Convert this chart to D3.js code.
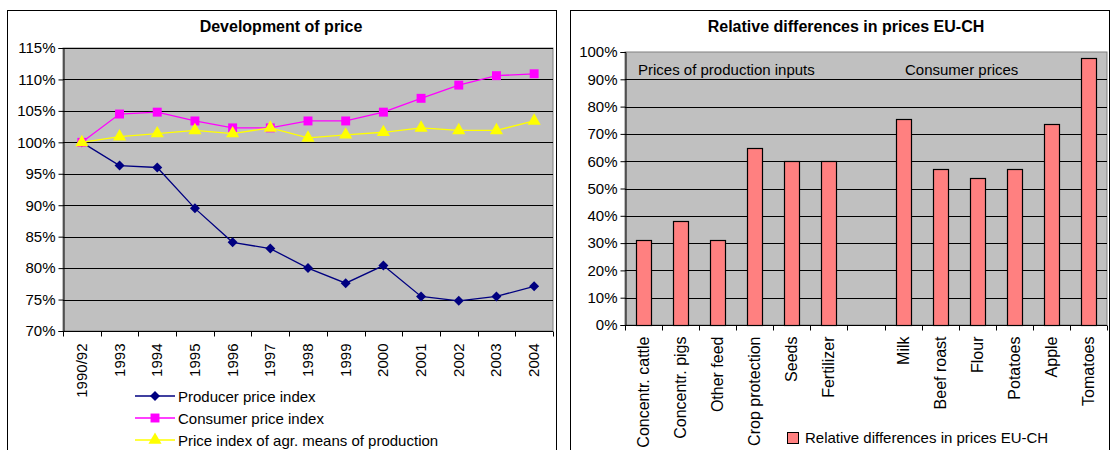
<!DOCTYPE html>
<html>
<head>
<meta charset="utf-8">
<script src="https://cdn.jsdelivr.net/npm/d3@7"></script>
<style>
  body { margin: 0; background: #fff; }
  svg { font-family: "Liberation Sans", Arial, sans-serif; }
</style>
</head>
<body>
<svg id="chart" width="1110" height="450"></svg>
<script>
// left chart data
const years = ["1990/92", "1993", "1994", "1995", "1996", "1997", "1998", "1999", "2000", "2001", "2002", "2003", "2004"];
const producerIndex = [100, 96.3, 96.0, 89.5, 84.1, 83.1, 80.0, 77.6, 80.4, 75.5, 74.8, 75.5, 77.1];
const consumerIndex = [100, 104.5, 104.8, 103.4, 102.3, 102.3, 103.4, 103.4, 104.8, 107.0, 109.1, 110.6, 110.9];
const meansIndex = [100, 100.9, 101.4, 101.9, 101.4, 102.3, 100.7, 101.2, 101.6, 102.3, 101.9, 101.9, 103.4];
const leftTicks = [70, 75, 80, 85, 90, 95, 100, 105, 110, 115];

// right chart data ("" is the empty slot between the two groups)
const products = ["Concentr. cattle", "Concentr. pigs", "Other feed", "Crop protection", "Seeds", "Fertilizer", "",
                  "Milk", "Beef roast", "Flour", "Potatoes", "Apple", "Tomatoes"];
const priceDiff = [31, 38.2, 31, 65, 60.2, 60.2, null, 75.4, 57, 53.8, 57, 73.8, 97.8];
const rightTicks = [0, 10, 20, 30, 40, 50, 60, 70, 80, 90, 100];

const svg = d3.select("#chart");

// frames
svg.append("rect").attr("x", 7.5).attr("y", 10.5).attr("width", 549).attr("height", 460)
    .attr("fill", "#fff").attr("stroke", "#000");
svg.append("rect").attr("x", 570.5).attr("y", 10.5).attr("width", 539).attr("height", 460)
    .attr("fill", "#fff").attr("stroke", "#000");

// ---------- left chart ----------
const L = { left: 63, right: 553, top: 48, bottom: 331 };

const xL = d3.scaleBand().domain(years).range([L.left, L.right]);
const yL = d3.scaleLinear().domain([70, 115]).range([L.bottom, L.top]);

svg.append("text")
    .attr("x", 281).attr("y", 32)
    .attr("text-anchor", "middle")
    .attr("font-size", "16px").attr("font-weight", "bold")
    .text("Development of price");

svg.append("rect")
    .attr("x", L.left).attr("y", L.top)
    .attr("width", L.right - L.left).attr("height", L.bottom - L.top)
    .attr("fill", "#c0c0c0").attr("stroke", "#808080");

svg.append("g")
    .selectAll("line")
    .data(leftTicks.slice(1))
    .enter().append("line")
    .attr("x1", L.left).attr("x2", L.right)
    .attr("y1", d => Math.round(yL(d)) + 0.5).attr("y2", d => Math.round(yL(d)) + 0.5)
    .attr("stroke", "#000");

const yAxisL = svg.append("g")
    .attr("transform", `translate(${L.left + 0.5},0)`)
    .call(d3.axisLeft(yL).tickValues(leftTicks).tickFormat(d => d + "%").tickSize(5).tickPadding(3));
yAxisL.select(".domain").attr("stroke", "#000");
yAxisL.selectAll("text").attr("font-size", "15px").attr("fill", "#000").attr("font-family", "Liberation Sans, Arial, sans-serif");

const xAxisL = svg.append("g")
    .attr("transform", `translate(0,${L.bottom + 0.5})`);
xAxisL.append("line").attr("x1", L.left).attr("x2", L.right).attr("stroke", "#000");
xAxisL.selectAll(".tk")
    .data(d3.range(years.length + 1))
    .enter().append("line")
    .attr("x1", i => Math.round(L.left + i * xL.step()) + 0.5)
    .attr("x2", i => Math.round(L.left + i * xL.step()) + 0.5)
    .attr("y1", 0).attr("y2", 5).attr("stroke", "#000");
xAxisL.selectAll("text")
    .data(years)
    .enter().append("text")
    .attr("transform", d => `translate(${xL(d) + xL.bandwidth() / 2 + 5},12) rotate(-90)`)
    .attr("text-anchor", "end")
    .attr("font-size", "15px")
    .text(d => d);

const series = [
    { name: "Producer price index", values: producerIndex, color: "#000080", shape: d3.symbolSquare, size: 50, rot: 45 },
    { name: "Consumer price index", values: consumerIndex, color: "#ff00ff", shape: d3.symbolSquare, size: 80, rot: 0 },
    { name: "Price index of agr. means of production", values: meansIndex, color: "#ffff00", shape: d3.symbolTriangle, size: 75, rot: 0 }
];

const line = d3.line()
    .x((d, i) => xL(years[i]) + xL.bandwidth() / 2)
    .y(d => yL(d));

series.forEach(s => {
    svg.append("path")
        .datum(s.values)
        .attr("d", line)
        .attr("fill", "none")
        .attr("stroke", s.color)
        .attr("stroke-width", 1.3);
    svg.append("g")
        .selectAll("path")
        .data(s.values)
        .enter().append("path")
        .attr("transform", (d, i) => `translate(${xL(years[i]) + xL.bandwidth() / 2},${yL(d)}) rotate(${s.rot})`)
        .attr("d", d3.symbol().type(s.shape).size(s.size))
        .attr("fill", s.color);
});

const legendL = svg.append("g").attr("transform", "translate(135,396)");
const legendItems = legendL.selectAll("g")
    .data(series)
    .enter().append("g")
    .attr("transform", (d, i) => `translate(0,${i * 22})`);
legendItems.append("line")
    .attr("x1", 0).attr("x2", 40)
    .attr("stroke", d => d.color).attr("stroke-width", 1.3);
legendItems.append("path")
    .attr("transform", d => `translate(20,0) rotate(${d.rot})`)
    .attr("d", d => d3.symbol().type(d.shape).size(d.size)())
    .attr("fill", d => d.color);
legendItems.append("text")
    .attr("x", 43).attr("y", 5.5)
    .attr("font-size", "15px")
    .text(d => d.name);

// ---------- right chart ----------
const R = { left: 625, right: 1107, top: 52, bottom: 325 };

const slot = (R.right - R.left) / products.length;
const yR = d3.scaleLinear().domain([0, 100]).range([R.bottom, R.top]);

svg.append("text")
    .attr("x", 846).attr("y", 32)
    .attr("text-anchor", "middle")
    .attr("font-size", "16px").attr("font-weight", "bold")
    .text("Relative differences in prices EU-CH");

svg.append("rect")
    .attr("x", R.left).attr("y", R.top)
    .attr("width", R.right - R.left).attr("height", R.bottom - R.top)
    .attr("fill", "#c0c0c0").attr("stroke", "#808080");

svg.append("g")
    .selectAll("line")
    .data(rightTicks.slice(1, -1))
    .enter().append("line")
    .attr("x1", R.left).attr("x2", R.right)
    .attr("y1", d => Math.round(yR(d)) + 0.5).attr("y2", d => Math.round(yR(d)) + 0.5)
    .attr("stroke", "#000");

svg.append("text").attr("x", 638).attr("y", 75).attr("font-size", "15px").text("Prices of production inputs");
svg.append("text").attr("x", 905).attr("y", 75).attr("font-size", "15px").text("Consumer prices");

const barW = 15;
svg.append("g")
    .selectAll("rect")
    .data(priceDiff.map((v, i) => ({ v, i })).filter(d => d.v !== null))
    .enter().append("rect")
    .attr("x", d => Math.round(R.left + (d.i + 0.5) * slot - barW / 2) + 0.5)
    .attr("y", d => Math.round(yR(d.v)) + 0.5)
    .attr("width", barW)
    .attr("height", d => Math.round(yR(0)) - Math.round(yR(d.v)))
    .attr("fill", "#ff8080")
    .attr("stroke", "#000")
    .attr("stroke-width", 1.2);

const yAxisR = svg.append("g")
    .attr("transform", `translate(${R.left + 0.5},0)`)
    .call(d3.axisLeft(yR).tickValues(rightTicks).tickFormat(d => d + "%").tickSize(5).tickPadding(3));
yAxisR.select(".domain").attr("stroke", "#000");
yAxisR.selectAll("text").attr("font-size", "15px").attr("fill", "#000").attr("font-family", "Liberation Sans, Arial, sans-serif");

const xAxisR = svg.append("g")
    .attr("transform", `translate(0,${R.bottom + 0.5})`);
xAxisR.append("line").attr("x1", R.left).attr("x2", R.right).attr("stroke", "#000");
xAxisR.selectAll(".tk")
    .data(d3.range(products.length + 1))
    .enter().append("line")
    .attr("x1", i => Math.round(R.left + i * slot) + 0.5)
    .attr("x2", i => Math.round(R.left + i * slot) + 0.5)
    .attr("y1", 0).attr("y2", 5).attr("stroke", "#000");
xAxisR.selectAll("text")
    .data(products)
    .enter().append("text")
    .attr("transform", (d, i) => `translate(${R.left + (i + 0.5) * slot + 5.5},11) rotate(-90)`)
    .attr("text-anchor", "end")
    .attr("font-size", "16px")
    .text(d => d);

const legendR = svg.append("g").attr("transform", "translate(787,432)");
legendR.append("rect")
    .attr("x", 0.5).attr("y", 0.5).attr("width", 11).attr("height", 11)
    .attr("fill", "#ff8080").attr("stroke", "#000");
legendR.append("text")
    .attr("x", 18).attr("y", 11)
    .attr("font-size", "15px")
    .text("Relative differences in prices EU-CH");
</script>
</body>
</html>
